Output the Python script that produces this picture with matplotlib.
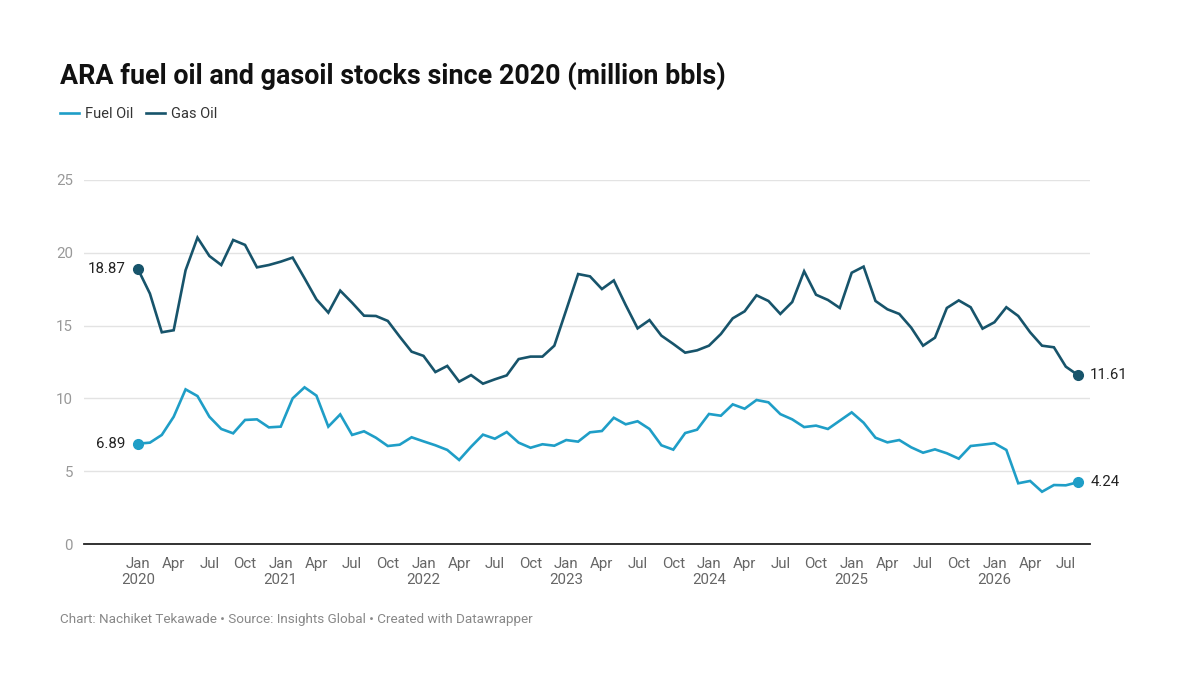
import matplotlib
matplotlib.use('Agg')
import matplotlib.pyplot as plt
import numpy as np

plt.rcParams['font.family'] = ['Roboto', 'DejaVu Sans']

# Monthly stocks, Jan 2020 - Aug 2026 (million bbls)
fuel_oil = [6.89, 6.96, 7.49, 8.74, 10.62, 10.16, 8.74, 7.90, 7.60, 8.52, 8.56, 8.01,
            8.06, 10.00, 10.76, 10.19, 8.06, 8.90, 7.49, 7.74, 7.30, 6.73, 6.82, 7.33,
            7.05, 6.78, 6.46, 5.77, 6.68, 7.51, 7.23, 7.69, 6.96, 6.61, 6.85, 6.75,
            7.14, 7.03, 7.67, 7.76, 8.67, 8.22, 8.43, 7.90, 6.78, 6.48, 7.62, 7.85,
            8.93, 8.81, 9.59, 9.29, 9.89, 9.73, 8.92, 8.56, 8.03, 8.13, 7.90, 8.47,
            9.04, 8.33, 7.30, 6.98, 7.14, 6.64, 6.27, 6.50, 6.23, 5.86, 6.73, 6.82,
            6.92, 6.46, 4.17, 4.33, 3.59, 4.05, 4.03, 4.24]
gas_oil = [18.87, 17.20, 14.54, 14.68, 18.80, 21.04, 19.78, 19.16, 20.88, 20.54, 19.00, 19.16,
           19.39, 19.67, 18.25, 16.80, 15.89, 17.40, 16.57, 15.68, 15.66, 15.32, 14.24, 13.21,
           12.92, 11.81, 12.23, 11.15, 11.60, 11.01, 11.31, 11.58, 12.70, 12.87, 12.87, 13.62,
           16.07, 18.54, 18.38, 17.51, 18.10, 16.41, 14.81, 15.38, 14.31, 13.74, 13.14, 13.30,
           13.62, 14.42, 15.50, 15.98, 17.08, 16.69, 15.80, 16.62, 18.73, 17.12, 16.76, 16.21,
           18.63, 19.05, 16.69, 16.12, 15.80, 14.86, 13.62, 14.17, 16.21, 16.73, 16.26, 14.79,
           15.23, 16.26, 15.66, 14.54, 13.62, 13.51, 12.18, 11.61]
start_year = 2020
month_names = ['Jan', 'Apr', 'Jul', 'Oct']
y_ticks = [0, 5, 10, 15, 20, 25]

fuel_color = '#1f9ec7'
gas_color = '#17546b'

months = np.arange(len(fuel_oil))

fig = plt.figure(figsize=(12, 6.88), dpi=100)
ax = fig.add_axes([0.07, 0.2093, 0.838, 0.5291])

ax.plot(months, fuel_oil, color=fuel_color, lw=1.9, label='Fuel Oil', solid_joinstyle='miter')
ax.plot(months, gas_oil, color=gas_color, lw=1.9, label='Gas Oil', solid_joinstyle='miter')

# end point markers and labels
for series, color in [(fuel_oil, fuel_color), (gas_oil, gas_color)]:
    ax.plot([months[0], months[-1]], [series[0], series[-1]], 'o', color=color, ms=7)
    ax.annotate('%.2f' % series[0], (months[0], series[0]), xytext=(-9, 0),
                textcoords='offset points', ha='right', va='center', fontsize=10.8, color='#222222')
    ax.annotate('%.2f' % series[-1], (months[-1], series[-1]), xytext=(9, 0),
                textcoords='offset points', ha='left', va='center', fontsize=10.8, color='#222222')

ax.set_xlim(-4.54, 80.0)
ax.set_ylim(0, 25)

# x ticks every quarter, year below Jan
xt = list(range(0, len(months), 3))
xl = []
for m in xt:
    name = month_names[(m % 12) // 3]
    if m % 12 == 0:
        name += '\n' + str(start_year + m // 12)
    xl.append(name)
ax.set_xticks(xt)
ax.set_xticklabels(xl, fontsize=10.8, color='#666666', linespacing=1.25, va='top')
ax.set_yticks(y_ticks)
ax.set_yticklabels([str(t) for t in y_ticks], fontsize=10.8, color='#999999')
ax.tick_params(axis='both', length=0)
ax.tick_params(axis='x', pad=9)
ax.tick_params(axis='y', pad=8)

ax.grid(axis='y', color='#e3e3e3', lw=1)
ax.set_axisbelow(True)
for s in ['top', 'right', 'left']:
    ax.spines[s].set_visible(False)
ax.spines['bottom'].set_color('#222222')
ax.spines['bottom'].set_linewidth(1.3)
ax.spines['bottom'].set_zorder(3)

fig.text(0.05, 0.889, 'ARA fuel oil and gasoil stocks since 2020 (million bbls)',
         fontsize=19.4, fontweight='bold', color='#111111', va='center')
leg = ax.legend(loc='center left', bbox_to_anchor=(0.05, 0.834), bbox_transform=fig.transFigure,
                ncol=2, frameon=False, fontsize=10.5, handlelength=1.3, handletextpad=0.4,
                columnspacing=0.9, borderaxespad=0, borderpad=0)
for t in leg.get_texts():
    t.set_color('#333333')
fig.text(0.05, 0.1, 'Chart: Nachiket Tekawade \u2022 Source: Insights Global \u2022 Created with Datawrapper',
         fontsize=9.7, color='#888888', va='center')

fig.savefig('out.png', dpi=100, facecolor='white')
